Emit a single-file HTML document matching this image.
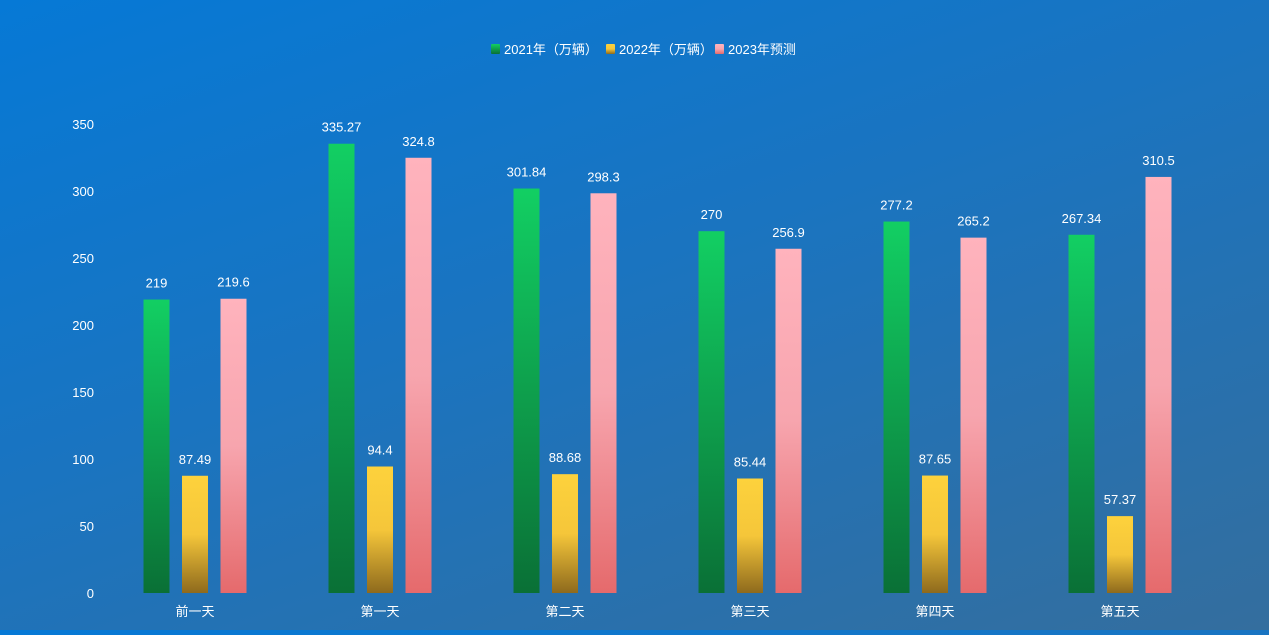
<!DOCTYPE html>
<html><head><meta charset="utf-8">
<style>
html,body{margin:0;padding:0;}
body{width:1269px;height:630px;overflow:hidden;background:linear-gradient(160deg,#0679d6 0%,#1a74c0 45%,#346e9e 100%);font-family:"Liberation Sans","Noto Sans CJK SC",sans-serif;}
svg text{font-family:"Liberation Sans","Noto Sans CJK SC",sans-serif;fill:#fff;}
</style></head>
<body>
<svg id="chart" width="1269" height="630" xmlns="http://www.w3.org/2000/svg">
<defs>
<linearGradient id="gG" x1="0" y1="0" x2="0" y2="1"><stop offset="0" stop-color="#12cf63"/><stop offset="1" stop-color="#0a7036"/></linearGradient>
<linearGradient id="gY" x1="0" y1="0" x2="0" y2="1"><stop offset="0" stop-color="#fdd23c"/><stop offset="0.5" stop-color="#f5c63a"/><stop offset="1" stop-color="#8e6a1d"/></linearGradient>
<linearGradient id="gP" x1="0" y1="0" x2="0" y2="1"><stop offset="0" stop-color="#ffb3bd"/><stop offset="0.5" stop-color="#f7a5ae"/><stop offset="1" stop-color="#e56a6c"/></linearGradient>
</defs>
<g id="legend">
<g><rect x="491" y="44" width="9" height="10" rx="1" fill="url(#gG)"/><text x="504" y="54" font-size="13">2021年（万辆）</text></g>
<g><rect x="606" y="44" width="9" height="10" rx="1" fill="url(#gY)"/><text x="619" y="54" font-size="13">2022年（万辆）</text></g>
<g><rect x="715" y="44" width="9" height="10" rx="1" fill="url(#gP)"/><text x="728" y="54" font-size="13">2023年预测</text></g>
</g>
<g id="yaxis"></g>
<g id="xaxis"></g>
<g id="bars"></g>
</svg>
<script>
const categories=["前一天","第一天","第二天","第三天","第四天","第五天"];
const s2021=[219,335.27,301.84,270,277.2,267.34];
const s2022=[87.49,94.4,88.68,85.44,87.65,57.37];
const s2023=[219.6,324.8,298.3,256.9,265.2,310.5];
const yTicks=[0,50,100,150,200,250,300,350];
const NS="http://www.w3.org/2000/svg";
const y0=593,yTop=124,yMax=350,xStart=102.5,band=185;
function yS(v){return y0-(y0-yTop)*v/yMax;}
function xC(i){return xStart+band*(i+0.5);}
function mk(tag,attrs,parent){const e=document.createElementNS(NS,tag);for(const k in attrs)e.setAttribute(k,attrs[k]);parent.appendChild(e);return e;}
const ya=document.getElementById('yaxis'),xa=document.getElementById('xaxis'),bg=document.getElementById('bars');
yTicks.forEach(t=>{const e=mk('text',{x:94,y:yS(t)+5,'font-size':13,'text-anchor':'end'},ya);


e.textContent=t;});
categories.forEach((c,i)=>{const e=mk('text',{x:xC(i),y:616,'font-size':13,'text-anchor':'middle'},xa);


e.textContent=c;});
const series=[[s2021,"url(#gG)",-38.5,"2021"],[s2022,"url(#gY)",0,"2022"],[s2023,"url(#gP)",38.5,"2023"]];
series.forEach(([arr,fill,off,nm])=>{arr.forEach((v,i)=>{const cx=xC(i)+off;const top=yS(v);
const r=mk('rect',{x:cx-13,y:top,width:26,height:y0-top,fill:fill},bg);


const t=mk('text',{x:cx,y:top-12,'font-size':13,'text-anchor':'middle'},bg);


t.textContent=v;});});
</script>
</body></html>
